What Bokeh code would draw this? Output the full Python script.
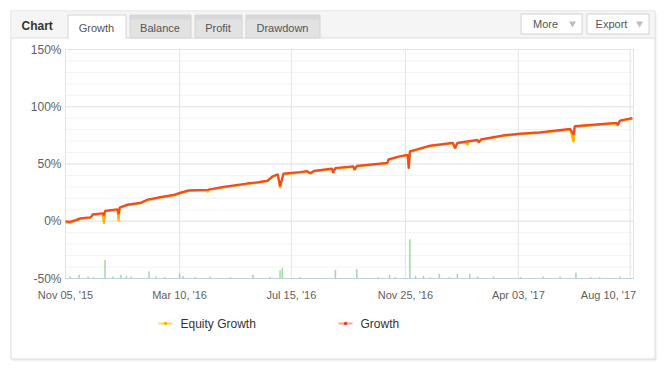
from bokeh.plotting import figure
from bokeh.models import Range1d
from bokeh.core.properties import value
from bokeh.embed import file_html
from bokeh.resources import INLINE

# ---------------- data ----------------
tick_idx = [0, 101, 200, 301, 401, 500]
tick_labels = ["Nov 05, '15", "Mar 10, '16", "Jul 15, '16", "Nov 25, '16", "Apr 03, '17", "Aug 10, '17"]
y_ticks = [-50, 0, 50, 100, 150]
y_minor_step = 10

growth_x = [0, 4, 9, 13, 22, 23, 24, 33, 34, 35, 46, 47, 48, 55, 66, 73, 84, 96, 102, 109,
            126, 140, 161, 170, 179, 183, 188, 190, 193, 208, 214, 217, 220, 236, 237, 239,
            255, 256, 258, 285, 286, 296, 303, 304, 305, 310, 323, 343, 345, 347, 365, 366,
            368, 388, 403, 420, 447, 450, 451, 488, 489, 491, 502]
growth_y = [0, -0.5, 1, 2.5, 3.5, 4, 6, 7, 5, 9, 10.5, 6, 12, 14.5, 16, 19, 21, 23, 25, 27,
            27.5, 30, 33, 34, 35.5, 39, 41, 30.5, 41.6, 43, 43.7, 42, 44, 46, 42.5, 46.5,
            48, 45, 48.3, 51, 54, 56.8, 58, 46, 61, 62.5, 66, 68.4, 64, 68.5, 71, 69,
            71.5, 75, 76.6, 77.7, 80.6, 75.7, 83, 86, 84, 88, 90]

equity_x = [0, 4, 9, 13, 22, 24, 33, 34, 35, 46, 47, 48, 55, 66, 73, 84, 96, 102, 109,
            125, 126, 127, 140, 161, 179, 183, 188, 190, 193, 208, 214, 217, 220, 236, 237,
            239, 255, 256, 258, 285, 286, 296, 303, 304, 305, 323, 343, 345, 347, 355, 356,
            357, 365, 366, 368, 388, 403, 420, 447, 450, 451, 488, 489, 491, 502]
equity_y = [-1, -1.5, 0.5, 2, 3, 5.5, 6.5, -2, 8.5, 10, 0, 11.5, 14, 15.5, 18.5, 20.5, 22.5,
            24.5, 26.5, 27, 25.5, 27.5, 29.5, 32.5, 35, 38.5, 40.5, 29, 41, 42.5, 43.2, 41.5,
            43.5, 45.5, 42, 46, 47.5, 44.5, 48, 50.5, 53.5, 56.3, 57.5, 46, 60.5, 65.5, 68,
            63.5, 68, 69, 66.5, 69.5, 70.5, 68.5, 71, 74.5, 76, 77.2, 80, 69, 82.5, 85.5,
            83.5, 87.5, 89.5]

volume_x = [4, 12, 20, 25, 35, 42, 49, 54, 58, 74, 80, 88, 101, 104, 115, 128, 146, 166,
            181, 190, 192, 208, 239, 258, 277, 287, 292, 305, 310, 317, 323, 331, 340, 347,
            358, 365, 379, 403, 423, 438, 452, 465, 473, 491]
volume_h = [1.5, 3, 1.5, 1, 16, 1.5, 3, 2, 1.5, 6, 1.5, 1, 4.5, 2, 1, 1.5, 1, 3,
            1, 7, 9, 1, 7.5, 8, 1, 3, 1, 34, 2, 2, 1, 4, 1, 4,
            4, 1.5, 1.5, 1, 1.5, 1.5, 5, 1, 1, 1.5]

tab_names = ["Growth", "Balance", "Profit", "Drawdown"]
button_names = ["More", "Export"]
series_names = ["Equity Growth", "Growth"]

# ---------------- geometry (page pixels) ----------------
W, H = 664, 377
PL, PR, PT, PB = 65, 633, 49, 278        # plot area
X0, X1 = 0, 503                          # index extent of the series
Y0, Y1 = y_ticks[0], y_ticks[-1]
kx = (PR - PL) / (X1 - X0)
ky = (PB - PT) / (Y1 - Y0)
xr = Range1d(X0 - PL / kx, X1 + (W - PR) / kx)
yr = Range1d(Y0 - (H - PB) / ky, Y1 + PT / ky)

FONT = "Liberation Sans"
p = figure(width=W, height=H, output_backend="svg", toolbar_location=None,
           x_range=xr, y_range=yr, x_axis_type=None, y_axis_type=None,
           min_border=0, outline_line_color=None,
           background_fill_color="white", border_fill_color="white")
p.grid.visible = False
p.extra_x_ranges = {"px": Range1d(0, W)}
p.extra_y_ranges = {"px": Range1d(H, 0),
                    "vol": Range1d(yr.start - Y0, yr.end - Y0)}
PX = dict(x_range_name="px", y_range_name="px")

# ---------------- panel chrome ----------------
p.quad(left=12, right=656, top=358, bottom=361, fill_color="black", fill_alpha=0.05, line_color=None, **PX)
p.quad(left=654, right=657, top=13, bottom=360, fill_color="black", fill_alpha=0.04, line_color=None, **PX)
p.quad(left=10.5, right=654.5, top=10.5, bottom=358.5, fill_color="white", line_color="#d9d9d9", **PX)
p.quad(left=11, right=654, top=11, bottom=37, fill_color="#f5f5f5", line_color=None, **PX)
p.segment(x0=11, x1=654, y0=37.5, y1=37.5, line_color="#dadada", **PX)
p.text(x=[21], y=[25], text=["Chart"], text_font=value(FONT), text_font_size="12px",
       text_font_style="bold", text_color="#333333", text_baseline="middle", text_align="left", **PX)

tab_l = [67, 129, 194, 245]
tab_r = [125, 190, 241, 319]
p.quad(left=[l + 0.5 for l in tab_l[1:]], right=[r + 0.5 for r in tab_r[1:]], top=14.5, bottom=37.5,
       fill_color="#e2e2e2", line_color="#d4d4d4", **PX)
p.quad(left=[l + 1 for l in tab_l[1:]], right=[r for r in tab_r[1:]], top=15, bottom=19,
       fill_color="#d4d4d4", fill_alpha=0.7, line_color=None, **PX)
p.quad(left=tab_l[0] + 0.5, right=tab_r[0] + 0.5, top=14.5, bottom=38.5,
       fill_color="white", line_color="#d4d4d4", **PX)
p.quad(left=tab_l[0] + 1, right=tab_r[0], top=36, bottom=40, fill_color="white", line_color=None, **PX)
p.text(x=[(l + r) / 2 for l, r in zip(tab_l, tab_r)], y=[27] * 4, text=tab_names,
       text_font=value(FONT), text_font_size="11px", text_color="#555555",
       text_baseline="middle", text_align="center", **PX)

btn_l = [520, 586]
btn_r = [581, 648]
p.quad(left=[l + 0.5 for l in btn_l], right=[r + 0.5 for r in btn_r], top=13.5, bottom=33.5,
       fill_color="white", line_color="#d2d2d2", **PX)
p.text(x=[l + 25 for l in btn_l], y=[23.5] * 2, text=button_names,
       text_font=value(FONT), text_font_size="11px", text_color="#555555",
       text_baseline="middle", text_align="center", **PX)
p.scatter(x=[r - 9 for r in btn_r], y=[23] * 2, marker="inverted_triangle", size=7,
          fill_color="#bdbdbd", line_color=None, **PX)

# ---------------- grid ----------------
minor = list(range(Y0, Y1 + 1, y_minor_step))
p.segment(x0=X0, x1=X1, y0=minor, y1=minor, line_color="#f3f3f3", line_width=1)
p.segment(x0=X0, x1=X1, y0=y_ticks, y1=y_ticks, line_color="#e3e3e3", line_width=1)
p.segment(x0=tick_idx + [X1], x1=tick_idx + [X1], y0=Y0, y1=Y1, line_color="#e3e3e3", line_width=1)

# ---------------- series ----------------
p.vbar(x=volume_x, top=volume_h, bottom=0, width=0.9, y_range_name="vol",
       fill_color="#9ed59e", line_color="#9ed59e", line_width=0.4)
p.segment(x0=X0, x1=X1, y0=Y0, y1=Y0, line_color="#c0d0e0", line_width=1)
p.line(equity_x, equity_y, line_color="#ffb400", line_width=2.2)
p.line(growth_x, growth_y, line_color="#ef4b27", line_width=2.2)

# ---------------- axis labels ----------------
p.text(x=[X0] * len(y_ticks), y=y_ticks, text=[f"{t}%" for t in y_ticks], x_offset=-4,
       text_font=value(FONT), text_font_size="12px", text_color="#606060",
       text_baseline="middle", text_align="right")
p.text(x=tick_idx[:-1], y=[Y0] * (len(tick_idx) - 1), text=tick_labels[:-1], y_offset=16,
       text_font=value(FONT), text_font_size="11px", text_color="#606060",
       text_baseline="middle", text_align="center")
# last label is kept inside the panel (right-justified, as in the original)
p.text(x=tick_idx[-1:], y=[Y0], text=tick_labels[-1:], x_offset=6, y_offset=16,
       text_font=value(FONT), text_font_size="11px", text_color="#606060",
       text_baseline="middle", text_align="right")

# ---------------- legend ----------------
p.segment(x0=[158, 338], x1=[172, 352], y0=[323, 323], y1=[323, 323],
          line_color=["#ffd469", "#f7a68a"], line_width=2, **PX)
p.scatter(x=[165, 345], y=[323, 323], size=2.5, fill_color=["#ffab00", "#e8341c"],
          line_color=["#ffab00", "#e8341c"], **PX)
p.text(x=[180, 360], y=[323, 323], text=series_names, text_font=value(FONT),
       text_font_size="12px", text_color="#333333", text_baseline="middle", text_align="left", **PX)

open("out.html", "w").write(file_html(p, INLINE))
